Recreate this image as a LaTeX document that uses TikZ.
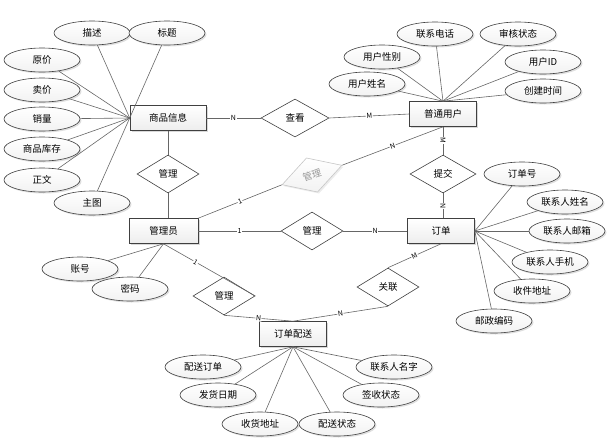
\documentclass[tikz,border=0pt]{standalone}
\usepackage{fontspec}
\setmainfont{Noto Sans CJK SC}
\usetikzlibrary{shapes.geometric,shadows}
\tikzset{
  ent/.style={rectangle,draw=black!75,line width=0.6pt,top color=white,bottom color=gray!14,
    minimum width=67pt,minimum height=25pt,inner sep=0pt,font=\fontsize{9.5}{11}\selectfont,
    drop shadow={opacity=0.3,shadow xshift=1.5pt,shadow yshift=-1.5pt}},
  attr/.style={ellipse,draw=black!75,line width=0.6pt,top color=white,bottom color=gray!10,
    minimum width=76pt,minimum height=24pt,inner sep=0pt,font=\fontsize{9.5}{11}\selectfont,
    drop shadow={opacity=0.25,shadow xshift=1.5pt,shadow yshift=-1.5pt}},
  rel/.style={diamond,draw=black!75,line width=0.6pt,fill=white,
    minimum width=62pt,minimum height=38pt,inner sep=0pt,font=\fontsize{9.5}{11}\selectfont},
  ghost/.style={diamond,draw=gray!45,line width=0.6pt,top color=white,bottom color=gray!10,text=gray!80,
    minimum width=63pt,minimum height=36pt,inner sep=0pt,font=\fontsize{9.5}{11}\selectfont,
    drop shadow={opacity=0.15,shadow xshift=1.5pt,shadow yshift=-1.5pt}},
  lnk/.style={draw=black!60,line width=0.6pt},
  card/.style={fill=white,inner sep=0.6pt,font=\fontsize{7}{8}\selectfont,sloped}
}
\begin{document}
\begin{tikzpicture}[x=1pt,y=-1pt]
\useasboundingbox (0,0) rectangle (611,445);
% entities
\node[ent,minimum width=76pt] (goods) at (168,118) {商品信息};
\node[ent] (user) at (443,114) {普通用户};
\node[ent,minimum width=69pt] (admin) at (163.5,231) {管理员};
\node[ent] (order) at (441,231) {订单};
\node[ent] (ship) at (293,334) {订单配送};
% relations
\node[rel,minimum width=68pt] (see) at (295,118) {查看};
\node[rel] (mg1) at (168,174) {管理};
\node[ghost,rotate=18] (mg2) at (312,175) {管理};
\node[rel] (mg3) at (312,231) {管理};
\node[rel,minimum width=66pt] (sub) at (443,174) {提交};
\node[rel] (mg4) at (224,296) {管理};
\node[rel] (rel1) at (388,287) {关联};
% goods attributes
\node[attr] (g1) at (92,33) {描述};
\node[attr] (g2) at (167,33) {标题};
\node[attr] (g3) at (42,60) {原价};
\node[attr] (g4) at (42,90) {卖价};
\node[attr] (g5) at (42,119) {销量};
\node[attr] (g6) at (42,149) {商品库存};
\node[attr] (g7) at (42,180) {正文};
\node[attr] (g8) at (92,203) {主图};
\foreach \a in {g1,g2,g3,g4,g5,g6,g7,g8} \draw[lnk] (goods.west) -- (\a);
% user attributes
\node[attr] (u1) at (367,84) {用户姓名};
\node[attr] (u2) at (382,57) {用户性别};
\node[attr] (u3) at (435,34) {联系电话};
\node[attr] (u4) at (518,34) {审核状态};
\node[attr] (u5) at (543,62) {用户ID};
\node[attr] (u6) at (543,91) {创建时间};
\foreach \a in {u1,u2,u3,u4,u5,u6} \draw[lnk] (user.north) -- (\a);
% order attributes
\node[attr] (o1) at (522,174) {订单号};
\node[attr] (o2) at (565,202) {联系人姓名};
\node[attr] (o3) at (567,231) {联系人邮箱};
\node[attr] (o4) at (550,262) {联系人手机};
\node[attr] (o5) at (532,291) {收件地址};
\node[attr] (o6) at (494,321) {邮政编码};
\foreach \a in {o1,o2,o3,o4,o5,o6} \draw[lnk] (order.east) -- (\a);
% admin attributes
\node[attr] (a1) at (80,269) {账号};
\node[attr] (a2) at (130,289) {密码};
\foreach \a in {a1,a2} \draw[lnk] (admin.south) -- (\a);
% shipping attributes
\node[attr] (s1) at (203,367) {配送订单};
\node[attr] (s2) at (218,395) {发货日期};
\node[attr] (s3) at (260,424) {收货地址};
\node[attr] (s4) at (337,424) {配送状态};
\node[attr] (s5) at (381,395) {签收状态};
\node[attr] (s6) at (394,367) {联系人名字};
\foreach \a in {s1,s2,s3,s4,s5,s6} \draw[lnk] (ship.south) -- (\a);
% relationship links
\draw[lnk] (goods.east) -- node[card]{N} (see.west);
\draw[lnk] (see.east) -- node[card]{M} (user.west);
\draw[lnk] (goods.south) -- (mg1.north);
\draw[lnk] (mg1.south) -- (mg1.south |- admin.north);
\draw[lnk] (admin.north east) -- node[card]{1} (mg2.west);
\draw[lnk] (mg2.east) -- node[card]{N} (user.south);
\draw[lnk] (admin.east) -- node[card]{1} (mg3.west);
\draw[lnk] (mg3.east) -- node[card]{N} (order.west);
\draw[lnk] (user.south) -- node[card]{M} (sub.north);
\draw[lnk] (sub.south) -- node[card]{N} (sub.south |- order.north);
\draw[lnk] (order.south) -- node[card]{M} (rel1.north);
\draw[lnk] (rel1.south) -- node[card]{N} (ship.north);
\draw[lnk] (admin.south) -- node[card,pos=0.35]{1} (mg4.east);
\draw[lnk] (mg4.south) -- node[card]{N} (ship.north);
\end{tikzpicture}
\end{document}
